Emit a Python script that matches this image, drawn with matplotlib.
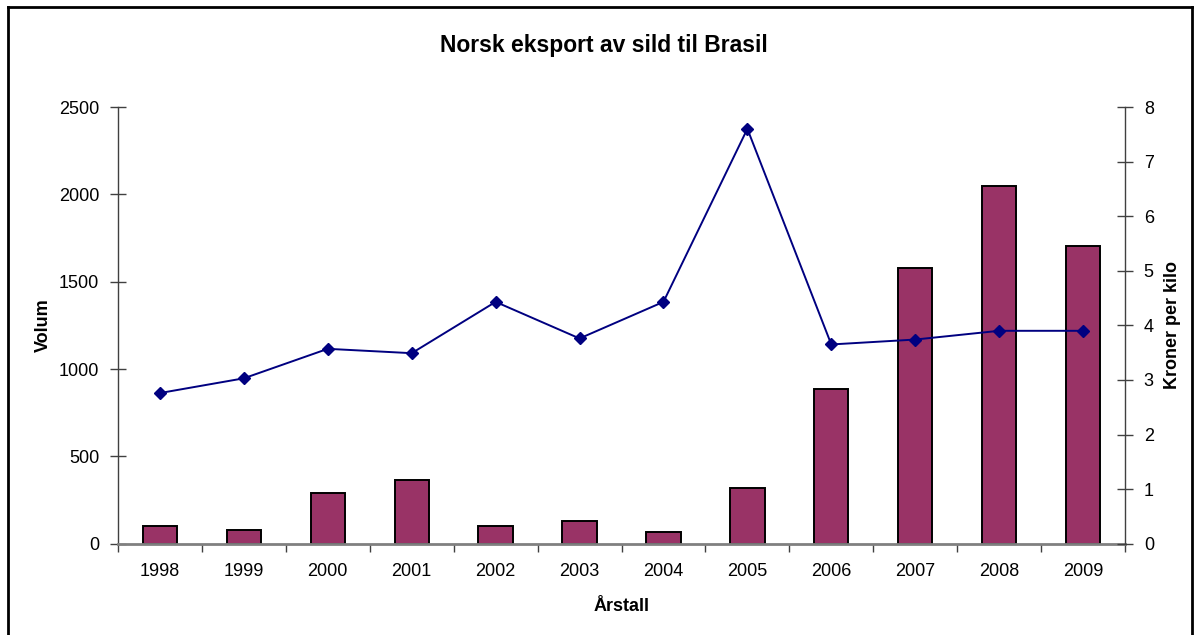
import matplotlib
matplotlib.use("Agg")
import matplotlib.pyplot as plt
from matplotlib.lines import Line2D
from matplotlib.ticker import FixedLocator, NullFormatter

plt.rcParams["font.family"] = ["Liberation Sans", "DejaVu Sans"]

years = ["1998", "1999", "2000", "2001", "2002", "2003",
         "2004", "2005", "2006", "2007", "2008", "2009"]
volum = [103, 77, 288, 364, 103, 128, 67, 320, 887, 1579, 2045, 1707]
kroner_per_kilo = [2.76, 3.03, 3.57, 3.49, 4.43, 3.76,
                   4.43, 7.60, 3.65, 3.74, 3.90, 3.90]
left_ticks = [0, 500, 1000, 1500, 2000, 2500]
right_ticks = [0, 1, 2, 3, 4, 5, 6, 7, 8]

W, H = 1200, 635
fig = plt.figure(figsize=(W / 100, H / 100), dpi=100)
fig.patch.set_facecolor("white")

ax = fig.add_axes([118 / W, (H - 543.7) / H, 1007 / W, 436.7 / H])
x = list(range(len(years)))

ax.bar(x, volum, width=0.41, color="#993366", edgecolor="black",
       linewidth=1.4, zorder=2)
ax.set_xlim(-0.5, len(years) - 0.5)
ax.set_ylim(0, 2500)
ax.set_yticks(left_ticks)
ax.set_yticklabels([str(v) for v in left_ticks], fontsize=13)

# category labels centred, tick marks on category boundaries
ax.set_xticks(x)
ax.set_xticklabels(years, fontsize=13)
ax.tick_params(axis="x", which="major", length=0, pad=14)
ax.xaxis.set_minor_locator(FixedLocator([i - 0.5 for i in range(len(years) + 1)]))
ax.xaxis.set_minor_formatter(NullFormatter())
ax.tick_params(axis="x", which="minor", direction="out", length=6,
               width=1.0, color="#404040")
ax.tick_params(axis="y", direction="inout", length=11, width=1.0,
               color="#404040", pad=8)

for s in ("top", "right"):
    ax.spines[s].set_visible(False)
ax.spines["left"].set_color("#404040")
ax.spines["left"].set_linewidth(1.0)
ax.spines["bottom"].set_color("#808080")
ax.spines["bottom"].set_linewidth(2.0)

ax.set_ylabel("Volum", fontsize=13, fontweight="bold", labelpad=5)
ax.set_xlabel("Årstall", fontsize=13, fontweight="bold", labelpad=13)

ax2 = ax.twinx()
ax2.plot(x, kroner_per_kilo, color="#000080", linewidth=1.4,
         marker="D", markersize=6.5, markerfacecolor="#000080",
         markeredgecolor="#000080", zorder=3)
ax2.set_ylim(0, 8)
ax2.set_yticks(right_ticks)
ax2.set_yticklabels([str(v) for v in right_ticks], fontsize=13)
ax2.tick_params(axis="y", direction="inout", length=11, width=1.0,
                color="#404040", pad=8)
for s in ("top", "left", "bottom"):
    ax2.spines[s].set_visible(False)
ax2.spines["right"].set_color("#404040")
ax2.spines["right"].set_linewidth(1.0)
ax2.set_ylabel("Kroner per kilo", fontsize=13, fontweight="bold",
               labelpad=7)

fig.text(604 / W, 1 - 45.5 / H, "Norsk eksport av sild til Brasil",
         ha="center", va="center", fontsize=16.5, fontweight="bold")

# chart frame
frame_kw = dict(color="black", linewidth=2.0, transform=fig.transFigure)
fig.add_artist(Line2D([8 / W, 8 / W], [0, 1 - 7 / H], **frame_kw))
fig.add_artist(Line2D([8 / W, 1192 / W], [1 - 7 / H, 1 - 7 / H], **frame_kw))
fig.add_artist(Line2D([1192 / W, 1192 / W], [0, 1 - 7 / H], **frame_kw))

fig.savefig("out.png", dpi=100, facecolor="white")
